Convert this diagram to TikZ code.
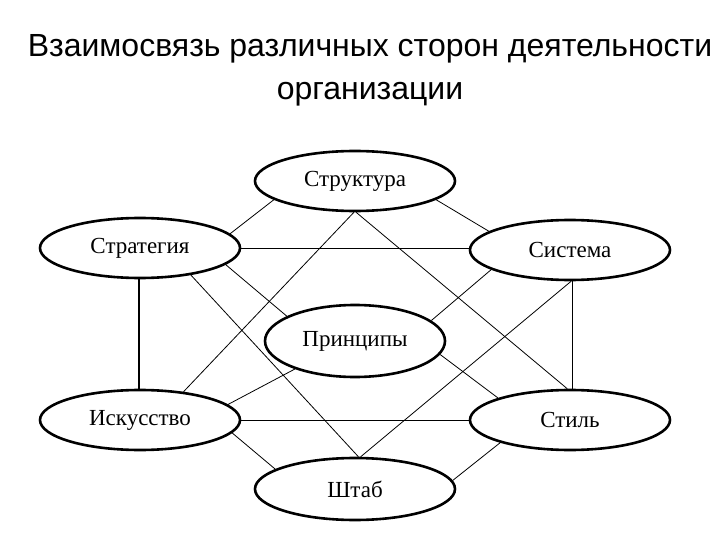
\documentclass[tikz,border=0pt]{standalone}
\usepackage{fontspec}
\setmainfont{Liberation Serif}
\newfontfamily\titlefont{Liberation Sans}
\usetikzlibrary{shapes.geometric}
\begin{document}
\begin{tikzpicture}[x=1pt,y=-1pt,
  ell/.style={ellipse,draw,line width=2.6pt,minimum width=200pt,minimum height=60pt,inner sep=0pt,font=\fontsize{23}{23}\selectfont},
  con/.style={line width=0.8pt}]
\useasboundingbox (0,0) rectangle (720,540);
\node[font=\titlefont\fontsize{32}{43}\selectfont,align=center] (title) at (370,70) {Взаимосвязь различных сторон деятельности\\организации};
\node[ell] (str) at (355,181) {Структура};
\node[ell] (strat) at (140,248) {Стратегия};
\node[ell] (sys) at (570,250) {Система};
\node[ell,minimum width=180pt,minimum height=72pt] (pr) at (355,341) {Принципы};
\node[ell] (isk) at (140,420) {Искусство};
\node[ell] (stil) at (570,420) {Стиль};
\node[ell,minimum height=62pt] (sh) at (355,489) {Штаб};
\draw[con] (str.193) -- (strat.9);
\draw[con] (str.347) -- (sys.167);
\draw[con] (str.268) -- (isk.33);
\draw[con] (str.272) -- (stil.95);
\draw[con] (strat.east) -- (sys.west|-strat.east);
\draw[con] (strat.349) -- (pr.160);
\draw[con] (strat.332) -- (sh.84);
\draw[line width=1.4pt] (strat.268) -- (isk.92);
\draw[con] (sys.194) -- (pr.15);
\draw[con] (sys.272) -- (sh.80);
\draw[line width=1.4pt] (sys.275) -- (stil.85);
\draw[con] (pr.205) -- (isk.10);
\draw[con] (pr.351) -- (stil.163);
\draw[con] (isk.east) -- (stil.west);
\draw[con] (isk.352) -- (sh.166);
\draw[con] (stil.198) -- (sh.5);
\end{tikzpicture}
\end{document}
